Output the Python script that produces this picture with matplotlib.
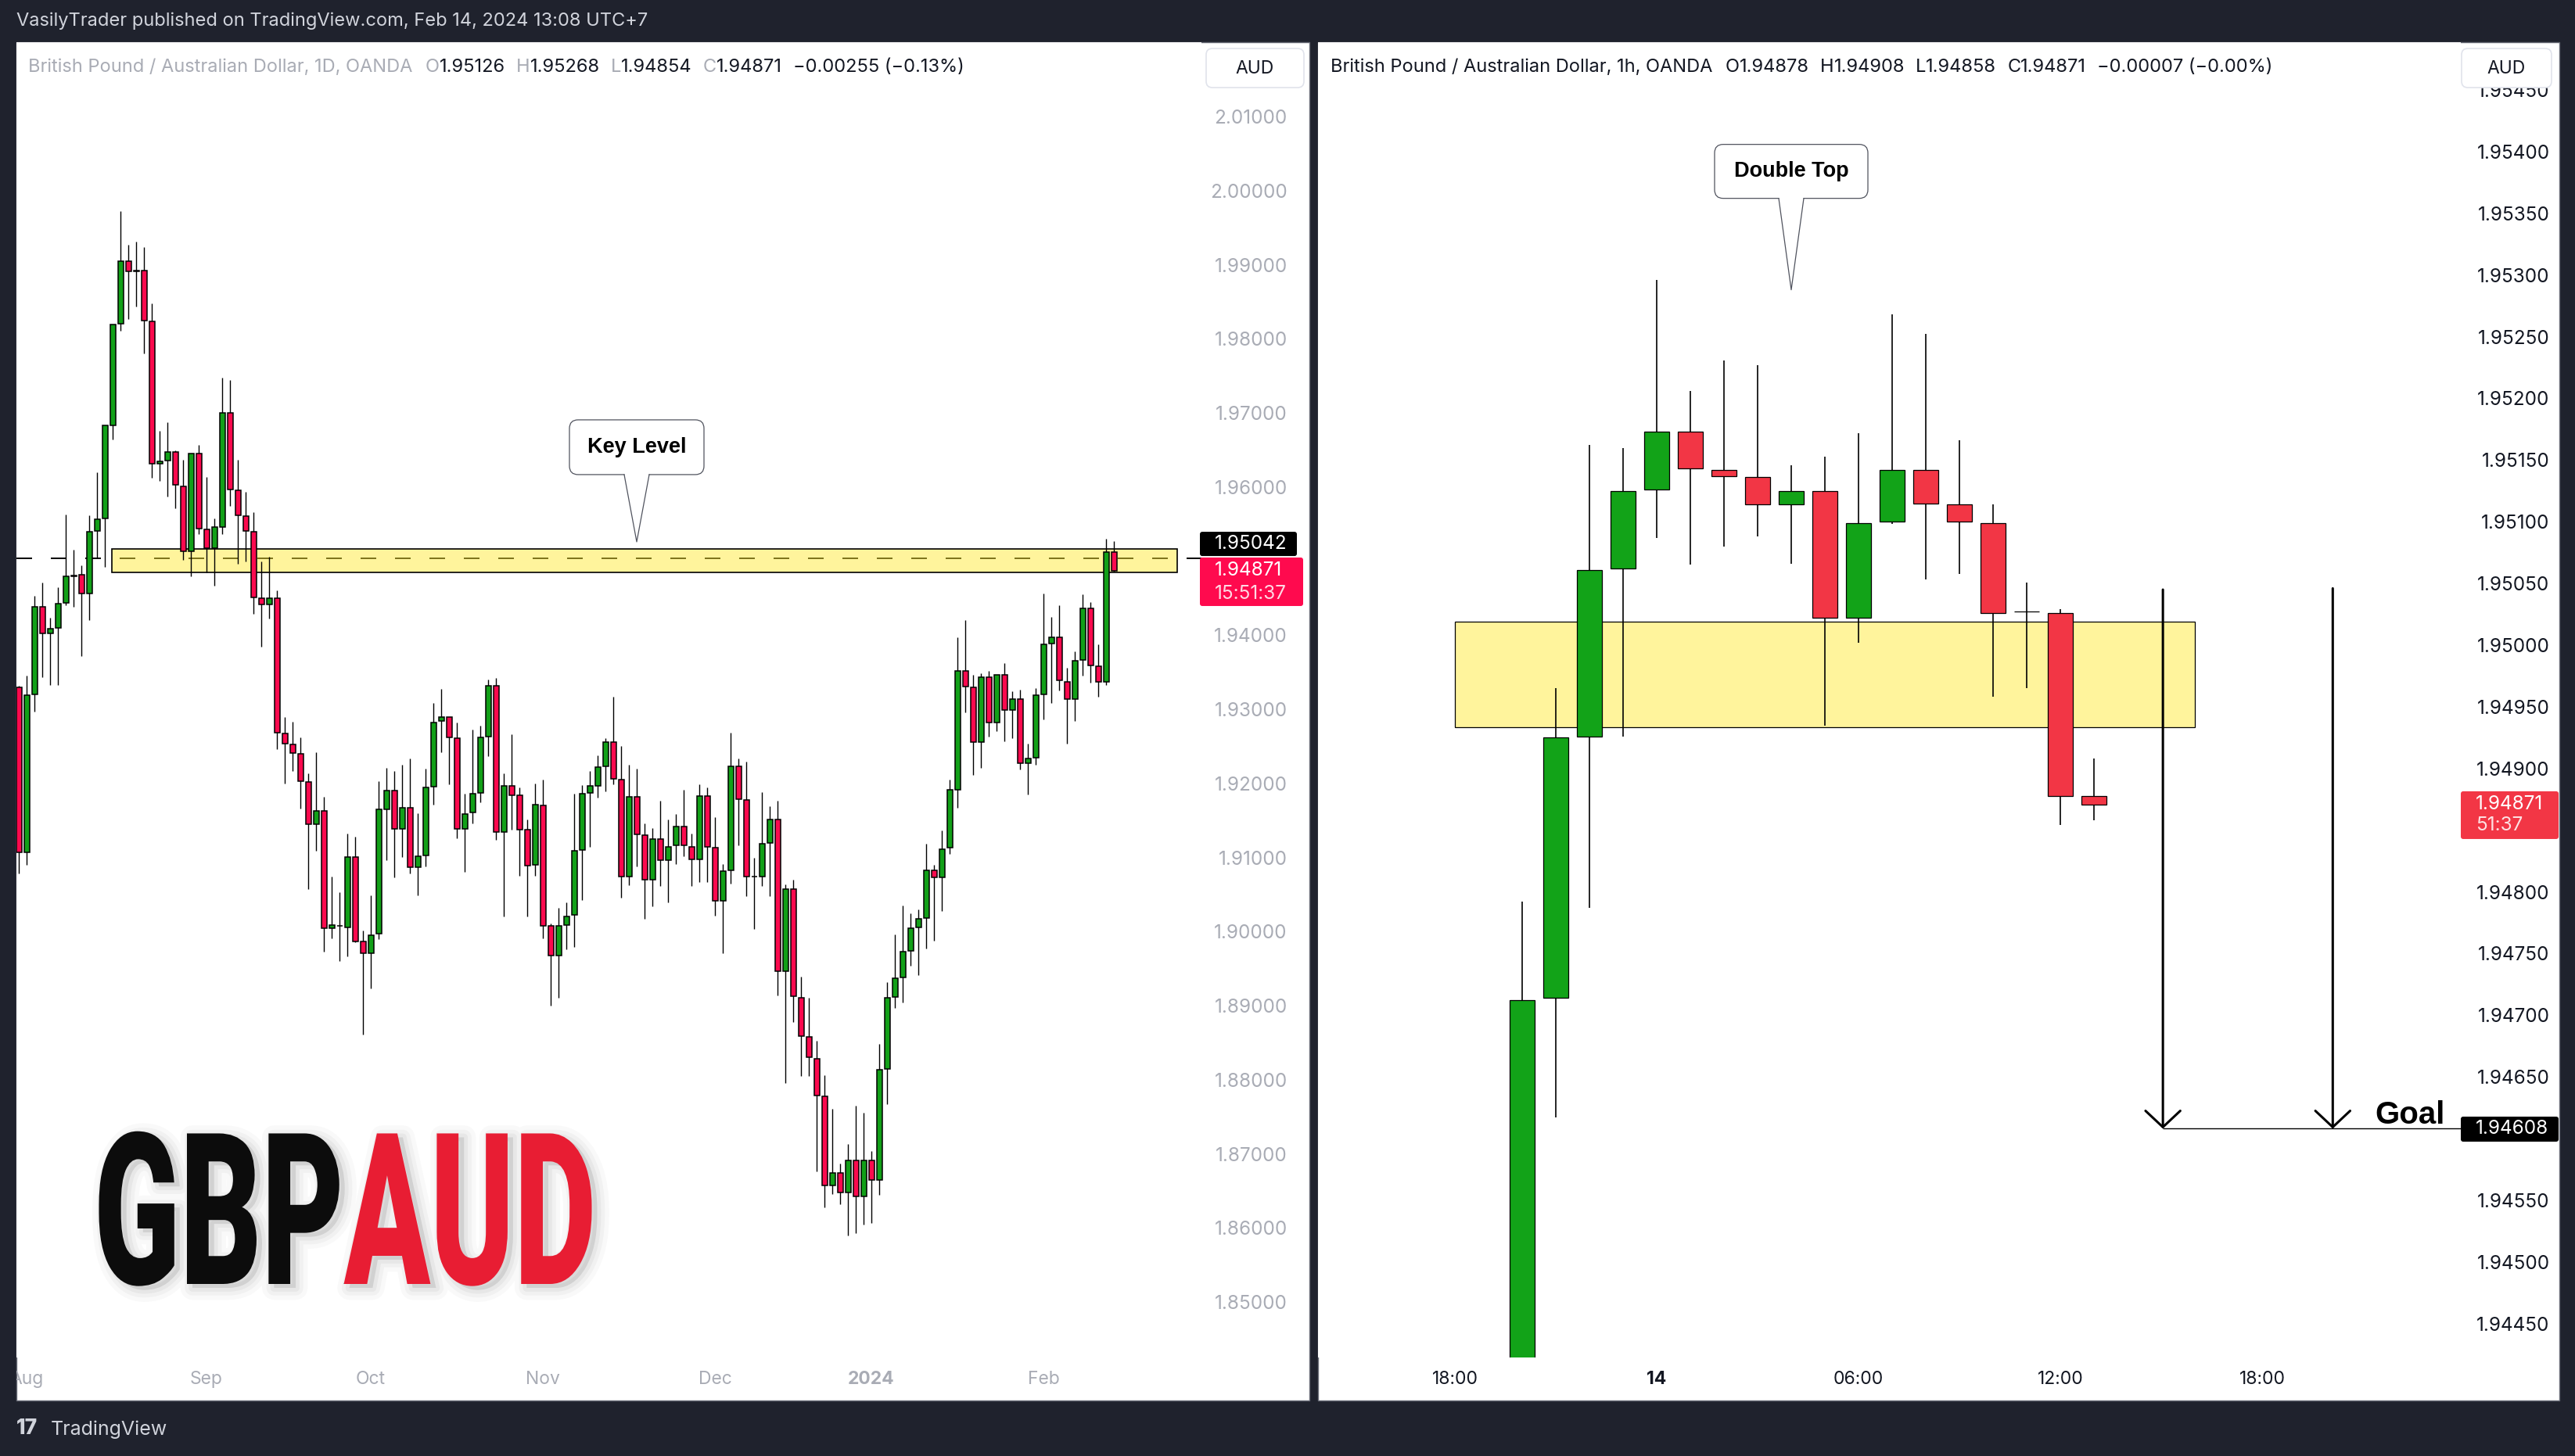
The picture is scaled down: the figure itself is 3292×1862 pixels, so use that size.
import numpy as np
import pandas as pd
import matplotlib
matplotlib.use("Agg")
import matplotlib.pyplot as plt
import matplotlib.patheffects as pe
import matplotlib.text as mtext
from matplotlib import transforms
from matplotlib.patches import Rectangle, FancyBboxPatch, Polygon

plt.rcParams['font.family'] = ['Inter', 'DejaVu Sans']

# ==========================================
# 1. DATA
# ==========================================
# GBPAUD daily, OANDA, 31 Jul 2023 -> 14 Feb 2024
d_open = [1.9330, 1.9107, 1.9320, 1.9438, 1.9402, 1.9410, 1.9444, 1.9480, 1.9482, 1.9456,
          1.9541, 1.9558, 1.9683, 1.9820, 1.9905, 1.9891, 1.9892, 1.9824, 1.9632, 1.9636,
          1.9647, 1.9601, 1.9513, 1.9645, 1.9543, 1.9518, 1.9546, 1.9700, 1.9596, 1.9561,
          1.9540, 1.9450, 1.9441, 1.9450, 1.9267, 1.9253, 1.9240, 1.9202, 1.9145, 1.9163,
          1.9004, 1.9008, 1.9006, 1.9101, 1.8987, 1.8971, 1.8997, 1.9165, 1.9190, 1.9139,
          1.9167, 1.9087, 1.9103, 1.9196, 1.9284, 1.9289, 1.9261, 1.9139, 1.9161, 1.9187,
          1.9263, 1.9332, 1.9134, 1.9197, 1.9184, 1.9137, 1.9090, 1.9170, 1.9008, 1.8968,
          1.9009, 1.9022, 1.9110, 1.9187, 1.9197, 1.9223, 1.9256, 1.9205, 1.9074, 1.9182,
          1.9130, 1.9070, 1.9125, 1.9096, 1.9116, 1.9142, 1.9114, 1.9097, 1.9183, 1.9113,
          1.9041, 1.9083, 1.9223, 1.9178, 1.9074, 1.9074, 1.9120, 1.9151, 1.8946, 1.9057,
          1.8911, 1.8858, 1.8828, 1.8778, 1.8657, 1.8674, 1.8648, 1.8691, 1.8643, 1.8691,
          1.8665, 1.8815, 1.8912, 1.8938, 1.8974, 1.9006, 1.9018, 1.9083, 1.9073, 1.9113,
          1.9191, 1.9352, 1.9330, 1.9256, 1.9343, 1.9282, 1.9346, 1.9299, 1.9314, 1.9227,
          1.9235, 1.9320, 1.9389, 1.9397, 1.9337, 1.9314, 1.9367, 1.9436, 1.9358, 1.9337,
          1.95126]
d_high = [1.9332, 1.9345, 1.9453, 1.9471, 1.9424, 1.9465, 1.9563, 1.9515, 1.9494, 1.9562,
          1.9620, 1.9683, 1.9819, 1.9972, 1.9927, 1.9931, 1.9924, 1.9848, 1.9676, 1.9687,
          1.9649, 1.9637, 1.9645, 1.9657, 1.9614, 1.9558, 1.9748, 1.9744, 1.9637, 1.9593,
          1.9566, 1.9500, 1.9506, 1.9460, 1.9289, 1.9283, 1.9262, 1.9213, 1.9242, 1.9182,
          1.9074, 1.9053, 1.9132, 1.9128, 1.9001, 1.9049, 1.9203, 1.9221, 1.9217, 1.9225,
          1.9234, 1.9160, 1.9220, 1.9309, 1.9328, 1.9289, 1.9282, 1.9186, 1.9273, 1.9278,
          1.9340, 1.9342, 1.9213, 1.9266, 1.9194, 1.9151, 1.9200, 1.9205, 1.9011, 1.9032,
          1.9039, 1.9186, 1.9198, 1.9217, 1.9238, 1.9261, 1.9317, 1.9250, 1.9225, 1.9220,
          1.9146, 1.9140, 1.9177, 1.9151, 1.9159, 1.9191, 1.9132, 1.9199, 1.9194, 1.9154,
          1.9091, 1.9268, 1.9234, 1.9229, 1.9099, 1.9188, 1.9169, 1.9177, 1.9064, 1.9070,
          1.8939, 1.8911, 1.8853, 1.8806, 1.8761, 1.8687, 1.8713, 1.8765, 1.8755, 1.8704,
          1.8848, 1.8932, 1.8996, 1.9035, 1.9025, 1.9030, 1.9119, 1.9090, 1.9136, 1.9205,
          1.9397, 1.9420, 1.9347, 1.9349, 1.9352, 1.9347, 1.9362, 1.9324, 1.9326, 1.9254,
          1.9329, 1.9456, 1.9425, 1.9440, 1.9356, 1.9378, 1.9455, 1.9445, 1.9388, 1.9530,
          1.95268]
d_low = [1.9078, 1.9090, 1.9297, 1.9343, 1.9333, 1.9333, 1.9440, 1.9438, 1.9372, 1.9420,
         1.9504, 1.9492, 1.9664, 1.9811, 1.9827, 1.9844, 1.9780, 1.9612, 1.9608, 1.9587,
         1.9571, 1.9502, 1.9480, 1.9536, 1.9485, 1.9467, 1.9536, 1.9575, 1.9496, 1.9500,
         1.9429, 1.9384, 1.9422, 1.9246, 1.9200, 1.9217, 1.9166, 1.9057, 1.9109, 1.8973,
         1.8991, 1.8960, 1.8967, 1.8985, 1.8861, 1.8923, 1.8990, 1.9096, 1.9073, 1.9101,
         1.9078, 1.9049, 1.9088, 1.9171, 1.9242, 1.9199, 1.9126, 1.9080, 1.9146, 1.9174,
         1.9237, 1.9124, 1.9020, 1.9137, 1.9075, 1.9020, 1.9075, 1.8991, 1.8900, 1.8911,
         1.8976, 1.8979, 1.9042, 1.9114, 1.9181, 1.9189, 1.9199, 1.9046, 1.9063, 1.9088,
         1.9017, 1.9034, 1.9062, 1.9039, 1.9091, 1.9102, 1.9062, 1.9067, 1.9067, 1.9021,
         1.8971, 1.9065, 1.9116, 1.9048, 1.9003, 1.9061, 1.9048, 1.8914, 1.8796, 1.8878,
         1.8805, 1.8805, 1.8676, 1.8628, 1.8646, 1.8632, 1.8590, 1.8593, 1.8604, 1.8607,
         1.8645, 1.8767, 1.8897, 1.8904, 1.8954, 1.8941, 1.8977, 1.8988, 1.9028, 1.9105,
         1.9167, 1.9296, 1.9211, 1.9221, 1.9263, 1.9270, 1.9257, 1.9261, 1.9219, 1.9185,
         1.9225, 1.9286, 1.9308, 1.9325, 1.9254, 1.9284, 1.9345, 1.9336, 1.9317, 1.9333,
         1.94854]
d_close = [1.9107, 1.9319, 1.9438, 1.9402, 1.9409, 1.9443, 1.9479, 1.9481, 1.9456, 1.9540,
           1.9557, 1.9683, 1.9819, 1.9905, 1.9891, 1.9892, 1.9825, 1.9632, 1.9635, 1.9647,
           1.9603, 1.9513, 1.9645, 1.9544, 1.9518, 1.9546, 1.9700, 1.9597, 1.9562, 1.9541,
           1.9451, 1.9441, 1.9450, 1.9268, 1.9254, 1.9241, 1.9203, 1.9145, 1.9163, 1.9004,
           1.9009, 1.9008, 1.9101, 1.8987, 1.8971, 1.8995, 1.9165, 1.9190, 1.9139, 1.9167,
           1.9087, 1.9102, 1.9194, 1.9282, 1.9289, 1.9262, 1.9139, 1.9159, 1.9186, 1.9262,
           1.9332, 1.9134, 1.9197, 1.9184, 1.9137, 1.9089, 1.9171, 1.9008, 1.8968, 1.9008,
           1.9020, 1.9109, 1.9186, 1.9197, 1.9222, 1.9256, 1.9206, 1.9074, 1.9182, 1.9131,
           1.9070, 1.9125, 1.9096, 1.9114, 1.9142, 1.9116, 1.9097, 1.9183, 1.9114, 1.9041,
           1.9082, 1.9223, 1.9179, 1.9074, 1.9074, 1.9119, 1.9151, 1.8946, 1.9057, 1.8913,
           1.8859, 1.8830, 1.8779, 1.8657, 1.8674, 1.8648, 1.8691, 1.8643, 1.8691, 1.8665,
           1.8814, 1.8911, 1.8937, 1.8973, 1.9005, 1.9017, 1.9083, 1.9073, 1.9111, 1.9191,
           1.9352, 1.9331, 1.9256, 1.9343, 1.9282, 1.9346, 1.9299, 1.9314, 1.9227, 1.9234,
           1.9319, 1.9388, 1.9397, 1.9339, 1.9314, 1.9366, 1.9436, 1.9359, 1.9337, 1.95126,
           1.94871]
d_first, d_last = "2023-07-31", "2024-02-14"
d_holidays = ["2023-12-25", "2024-01-01"]
month_labels = ["Aug", "Sep", "Oct", "Nov", "Dec", "2024", "Feb"]

# GBPAUD 1h, hours counted from 14 Feb 00:00 (UTC+7)
h_hours = [-4, -3, -2, -1, 0, 1, 2, 3, 4, 5, 6, 7, 8, 9, 10, 11, 12, 13]
h_open = [1.94380, 1.94714, 1.94926, 1.95062, 1.95126, 1.95173, 1.95142, 1.95136, 1.95114,
          1.95125, 1.95022, 1.95100, 1.95142, 1.95114, 1.95099, 1.95027, 1.95026, 1.94878]
h_high = [1.94792, 1.94965, 1.95162, 1.95160, 1.95296, 1.95206, 1.95231, 1.95227, 1.95146,
          1.95153, 1.95172, 1.95268, 1.95252, 1.95166, 1.95114, 1.95051, 1.95029, 1.94908]
h_low = [1.94360, 1.94617, 1.94787, 1.94926, 1.95087, 1.95065, 1.95080, 1.95088, 1.95066,
         1.94935, 1.95002, 1.95098, 1.95053, 1.95058, 1.94958, 1.94965, 1.94854, 1.94858]
h_close = [1.94712, 1.94925, 1.95061, 1.95125, 1.95173, 1.95143, 1.95137, 1.95114, 1.95125,
           1.95022, 1.95099, 1.95142, 1.95115, 1.95100, 1.95026, 1.95027, 1.94878, 1.94871]
hour_ticks = [-6, 0, 6, 12, 18]
hour_labels = ["18:00", "14", "06:00", "12:00", "18:00"]

# price-scale labels (the ones hidden behind the price tags are left out)
left_ticks = [1.85, 1.86, 1.87, 1.88, 1.89, 1.90, 1.91, 1.92, 1.93, 1.94,
              1.96, 1.97, 1.98, 1.99, 2.00, 2.01]
right_ticks = [1.9445, 1.9450, 1.9455, 1.9465, 1.9470, 1.9475, 1.9480,
               1.9490, 1.9495, 1.9500, 1.9505, 1.9510, 1.9515, 1.9520, 1.9525, 1.9530,
               1.9535, 1.9540, 1.9545]

key_price = 1.95042
key_zone = (1.94843, 1.95168)
key_zone_bars = (11.9, 148.1)
key_tip = (79.0, 1.9526)
h_zone = (1.949335, 1.950191)
h_zone_hours = (-6.0, 16.0)
top_tip = (4.0, 1.95288)
goal_price = 1.94608
goal_text_at = (21.35, 1.94612)
arrow_hours = [15.05, 20.1]
arrow_tops = [1.95045, 1.95046]
last_price = 1.94871

header_left = [("British Pound / Australian Dollar, 1D, OANDA", 0), ("O", 12), ("1.95126", 0),
               ("H", 10), ("1.95268", 0), ("L", 10), ("1.94854", 0), ("C", 10),
               ("1.94871", 0), ("\u22120.00255 (\u22120.13%)", 10)]
header_right = [("British Pound / Australian Dollar, 1h, OANDA", 0), ("O", 12), ("1.94878", 0),
                ("H", 10), ("1.94908", 0), ("L", 10), ("1.94858", 0), ("C", 10),
                ("1.94871", 0), ("\u22120.00007 (\u22120.00%)", 10)]

# ==========================================
# 2. LAYOUT (pixels of the 3292x1862 image)
# ==========================================
W, H = 3292, 1862
BG = '#1f222d'
INK = '#131722'
GREY = '#a9acb5'
UP_L, DN_L = '#12a018', '#fb0a4e'
UP_R, DN_R = '#12a318', '#f23645'
ZONE = (1.0, 0.922, 0.231, 0.5)

fig = plt.figure(figsize=(W / 100, H / 100), dpi=100, facecolor=BG)
PX = transforms.Affine2D().scale(1 / W, -1 / H).translate(0, 1) + fig.transFigure


def rect(x0, y0, x1, y1):
    return [x0 / W, 1 - y1 / H, (x1 - x0) / W, (y1 - y0) / H]


panel_l = Rectangle((21, 54), 1653, 1737, transform=PX, fc='white', ec='#6a6d78', lw=1, zorder=-1)
panel_r = Rectangle((1685, 54), 1587, 1737, transform=PX, fc='white', ec='#6a6d78', lw=1, zorder=-1)
fig.patches.extend([panel_l, panel_r])

axL = fig.add_axes(rect(21, 54, 1536, 1736))
axR = fig.add_axes(rect(1685, 54, 3146, 1736))
ov = fig.add_axes([0, 0, 1, 1], zorder=10)
ov.set_xlim(0, W)
ov.set_ylim(H, 0)
ov.axis('off')


def candles(ax, x, o, h, l, c, width, up, down, body_lw, wick_lw):
    x, o, h, l, c = (np.asarray(v, float) for v in (x, o, h, l, c))
    cols = np.where(c >= o, up, down)
    ax.vlines(x, l, h, color='black', lw=wick_lw, zorder=3)
    ax.bar(x, np.abs(c - o), width, bottom=np.minimum(o, c), color=cols,
           edgecolor='black', linewidth=body_lw, zorder=4)


def style_axes(ax, ticks, label_color, pad):
    for s in ax.spines.values():
        s.set_visible(False)
    ax.set_facecolor('white')
    ax.yaxis.tick_right()
    ax.set_yticks(ticks, [f'{t:.5f}' for t in ticks], ha='right')
    ax.tick_params(axis='y', length=0, pad=pad, labelsize=17.5, labelcolor=label_color)
    ax.tick_params(axis='x', length=0, pad=12, labelsize=16.5, labelcolor=label_color)


def anchor(ax, x_px, price):
    # pixel offsets (y up) around a price level at a fixed pixel column
    return transforms.Affine2D() + transforms.ScaledTranslation(
        x_px, price, transforms.blended_transform_factory(PX, ax.transData))


def price_tag(ax, x0, x1, price, top, bottom, color, lines):
    tr = anchor(ax, x0, price)
    ov.add_patch(FancyBboxPatch((0, bottom), x1 - x0, top - bottom,
                                boxstyle='round,pad=0,rounding_size=3', fc=color, ec='none',
                                transform=tr, clip_on=False))
    for txt, dy, alpha in lines:
        ov.text(19, dy, txt, transform=tr, color='white', alpha=alpha, fontsize=17.5,
                ha='left', va='center', clip_on=False)


def callout(ax, x, y, text, half_w, gap, box_h):
    tr = transforms.Affine2D() + transforms.ScaledTranslation(x, y, ax.transData)
    ax.add_patch(FancyBboxPatch((-half_w, gap), 2 * half_w, box_h,
                                boxstyle='round,pad=0,rounding_size=11', fc='white',
                                ec='#50535e', lw=0.9, transform=tr, clip_on=False, zorder=8))
    ax.add_patch(Polygon([(-16, gap + 3), (0, 0), (16, gap + 3)], closed=True, fc='white',
                         ec='none', transform=tr, clip_on=False, zorder=9))
    ax.plot([-16, 0, 16], [gap, 0, gap], color='#50535e', lw=0.9, transform=tr,
            clip_on=False, zorder=10)
    ax.text(0, gap + box_h / 2, text, transform=tr, fontsize=19.5, fontweight='bold',
            family=['Liberation Sans', 'DejaVu Sans'], ha='center', va='center',
            color='black', zorder=11, clip_on=False)


# ==========================================
# 3. LEFT PANEL - DAILY
# ==========================================
bars = np.arange(len(d_open))
dates = pd.bdate_range(d_first, d_last)
dates = dates[~dates.isin(pd.to_datetime(d_holidays))]
month_pos = [i for i in range(1, len(dates)) if dates[i].month != dates[i - 1].month]

candles(axL, bars, d_open, d_high, d_low, d_close, 0.7, UP_L, DN_L, 1.1, 1.0)
axL.set_xlim(-0.3, 151.2)
axL.set_ylim(1.842506, 2.020038)
style_axes(axL, left_ticks, GREY, 79)
axL.set_xticks(month_pos, month_labels)
for lab in axL.get_xticklabels():
    lab.set_clip_path(panel_l)
    if lab.get_text() == '2024':
        lab.set_fontweight('bold')

axL.axhline(key_price, color='black', lw=1.44, ls=(0, (10, 12)), zorder=1)
axL.add_patch(Rectangle((key_zone_bars[0], key_zone[0]), key_zone_bars[1] - key_zone_bars[0],
                        key_zone[1] - key_zone[0], fc=ZONE, ec='black', lw=1.2, zorder=2))
callout(axL, key_tip[0], key_tip[1], 'Key Level', 86, 86, 70)

price_tag(axL, 1534, 1658, key_price, 33.5, 2.5, 'black', [('1.95042', 18, 1.0)])
price_tag(axL, 1534, 1666, last_price, 16.8, -45.2, '#ff0a4e',
          [('1.94871', 0, 1.0), ('15:51:37', -30, 0.85)])

# ==========================================
# 4. RIGHT PANEL - 1H
# ==========================================
candles(axR, h_hours, h_open, h_high, h_low, h_close, 0.73, UP_R, DN_R, 0.9, 1.2)
axR.set_xlim(-10.07, 23.907)
axR.set_ylim(1.944226, 1.954887)
style_axes(axR, right_ticks, INK, 81.7)
axR.set_xticks(hour_ticks, hour_labels)
for lab in axR.get_xticklabels():
    if lab.get_text() == '14':
        lab.set_fontweight('bold')

axR.add_patch(Rectangle((h_zone_hours[0], h_zone[0]), h_zone_hours[1] - h_zone_hours[0],
                        h_zone[1] - h_zone[0], fc=ZONE, ec='black', lw=0.9, zorder=2))
callout(axR, top_tip[0], top_tip[1], 'Double Top', 98, 117, 69)

axR.hlines(goal_price, arrow_hours[0], axR.get_xlim()[1], color='black', lw=1.0, zorder=6)
for xh, top in zip(arrow_hours, arrow_tops):
    axR.annotate('', xy=(xh, goal_price), xytext=(xh, top),
                 arrowprops=dict(arrowstyle='->,head_length=0.75,head_width=0.8',
                                 lw=2.2, color='black', shrinkA=0, shrinkB=0,
                                 mutation_scale=20), zorder=7)
axR.text(goal_text_at[0], goal_text_at[1], 'Goal', fontsize=29, fontweight='bold',
         family=['Liberation Sans', 'DejaVu Sans'], ha='left', va='baseline', zorder=7)

price_tag(axR, 3146, 3271, last_price, 16.6, -44.4, DN_R,
          [('1.94871', 0, 1.0), ('51:37', -27, 0.85)])
price_tag(axR, 3146, 3271, goal_price, 15.5, -16.5, 'black', [('1.94608', 0, 1.0)])

# ==========================================
# 5. FRAME TEXTS
# ==========================================
ov.text(21, 27, 'VasilyTrader published on TradingView.com, Feb 14, 2024 13:08 UTC+7',
        color='#d1d4dc', fontsize=17, va='center', ha='left')


def header(x, y, parts, title_color, letter_color):
    prev = None
    for k, (txt, gap) in enumerate(parts):
        if k == 0:
            col = title_color
        elif len(txt) == 1:
            col = letter_color
        else:
            col = INK
        if prev is None:
            prev = ov.text(x, y, txt, color=col, fontsize=17, va='center', ha='left')
        else:
            prev = ov.annotate(txt, xy=(1, 0.5), xycoords=prev, xytext=(gap, 0),
                               textcoords='offset points', color=col, fontsize=17,
                               va='center', ha='left')


header(36, 86, header_left, GREY, GREY)
header(1701, 86, header_right, INK, INK)

for x0, x1 in ((1542, 1667), (3147, 3262)):
    ov.add_patch(FancyBboxPatch((x0, 62), x1 - x0, 50, boxstyle='round,pad=0,rounding_size=8',
                                fc='white', ec='#e0e3eb', lw=1.2))
    ov.text((x0 + x1) / 2, 88, 'AUD', color=INK, fontsize=16.5, ha='center', va='center')

ov.text(21, 1827, '17', color='#d1d4dc', fontsize=19, fontweight='heavy', ha='left', va='center')
ov.text(65, 1828, 'TradingView', color='#d1d4dc', fontsize=18, ha='left', va='center')


# GBPAUD stamp: one text, squeezed to a tall condensed look, black/red split, soft shadow
class Stamp(pe.AbstractPathEffect):
    def __init__(self, sx, x0, split, colors):
        super().__init__()
        self.sx, self.x0, self.split, self.colors = sx, x0, split, colors

    def draw_path(self, renderer, gc, tpath, affine, rgbFace=None):
        t = affine + transforms.Affine2D().translate(-self.x0, 0).scale(self.sx, 1).translate(self.x0, 0)
        for w, a in ((22, 0.025), (14, 0.03), (7, 0.04)):
            g = renderer.new_gc()
            g.copy_properties(gc)
            g.set_alpha(a)
            g.set_linewidth(w)
            g.set_foreground((0, 0, 0))
            renderer.draw_path(g, tpath, t + transforms.Affine2D().translate(7, -5), (0, 0, 0))
            g.restore()
        for (a, b), col in zip(((0, self.split), (self.split, 1e5)), self.colors):
            g = renderer.new_gc()
            g.copy_properties(gc)
            g.set_clip_rectangle(transforms.Bbox([[a, 0], [b, 1e5]]))
            renderer.draw_path(g, tpath, t, matplotlib.colors.to_rgb(col))
            g.restore()


class SqueezedText(mtext.Text):
    # same text, but its extent reports the squeezed width
    sx = 1.0
    x0 = 0.0

    def get_window_extent(self, renderer=None, dpi=None):
        bb = super().get_window_extent(renderer, dpi)
        return transforms.Bbox([[self.x0 + (bb.x0 - self.x0) * self.sx, bb.y0],
                                [self.x0 + (bb.x1 - self.x0) * self.sx, bb.y1]])


stamp_x0, stamp_x1 = 120, 762
stamp = SqueezedText(stamp_x0, 1642, 'GBPAUD', color='#0c0c0c', fontsize=195,
                     fontweight='heavy', family=['Roboto', 'DejaVu Sans'],
                     ha='left', va='baseline')
ov.add_artist(stamp)
fig.canvas.draw()
rend = fig.canvas.get_renderer()
full_w = stamp.get_window_extent(rend).width
gbp_w = rend.get_text_width_height_descent('GBP', stamp.get_fontproperties(), ismath=False)[0]
stamp.x0 = stamp_x0
stamp.sx = (stamp_x1 - stamp_x0) / full_w
stamp.set_path_effects([Stamp(stamp.sx, stamp_x0, stamp_x0 + gbp_w * stamp.sx,
                              ('#0c0c0c', '#e81d33'))])

fig.savefig('out.png', dpi=100, facecolor=BG)
